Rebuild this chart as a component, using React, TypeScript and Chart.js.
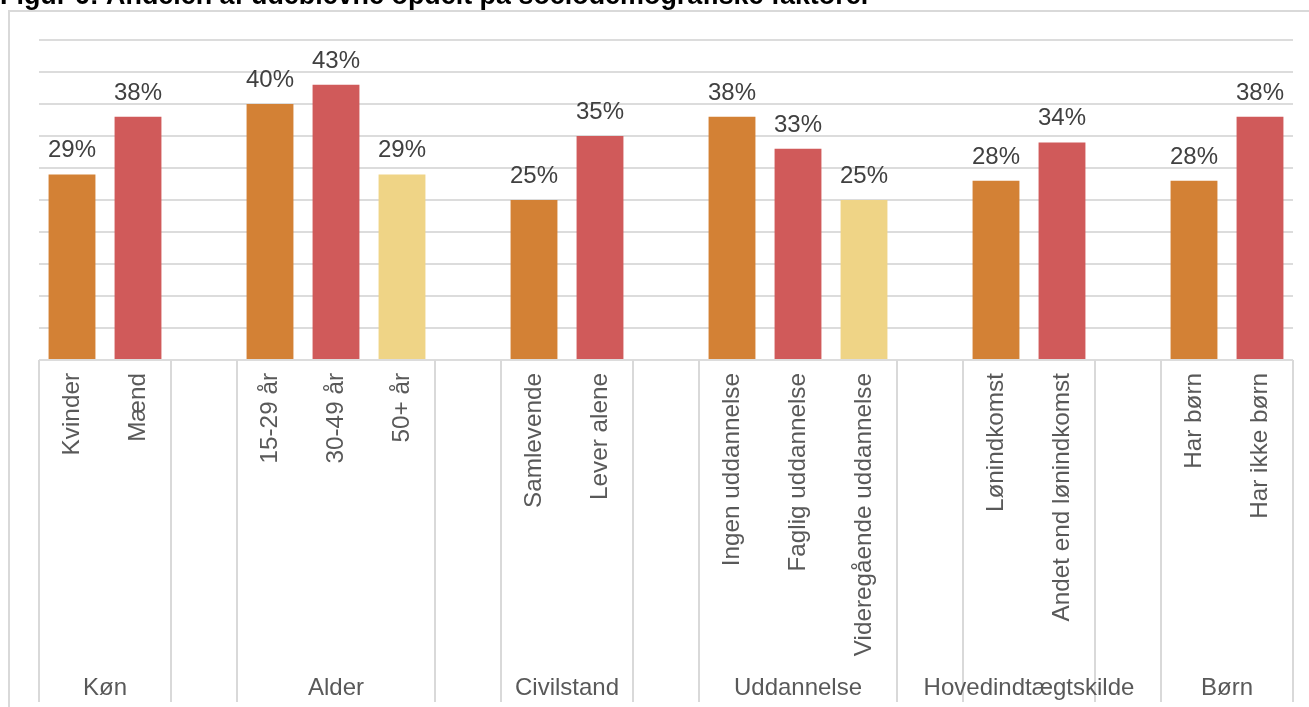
import React, { useEffect, useRef } from "react";
import { Chart, registerables } from "chart.js";

Chart.register(...registerables);

const TITLE = "Figur 6: Andelen af udeblevne opdelt på sociodemografiske faktorer";

const categories: string[] = [
  "Kvinder", "Mænd", "",
  "15-29 år", "30-49 år", "50+ år", "",
  "Samlevende", "Lever alene", "",
  "Ingen uddannelse", "Faglig uddannelse", "Videregående uddannelse", "",
  "Lønindkomst", "Andet end lønindkomst", "",
  "Har børn", "Har ikke børn",
];

const values: (number | null)[] = [
  29, 38, null,
  40, 43, 29, null,
  25, 35, null,
  38, 33, 25, null,
  28, 34, null,
  28, 38,
];

const colorIndex: number[] = [
  0, 1, 0,
  0, 1, 2, 0,
  0, 1, 0,
  0, 1, 2, 0,
  0, 1, 0,
  0, 1,
];

const groupNames: string[] = ["Køn", "", "Alder", "", "Civilstand", "", "Uddannelse", "", "Hovedindtægtskilde", "", "Børn"];
const groupSpans: number[] = [2, 1, 3, 1, 2, 1, 3, 1, 2, 1, 2];

const palette: string[] = ["#D38135", "#D05A5A", "#EFD486"];

const FONT = "'Liberation Sans', Arial, sans-serif";

const decorPlugin = {
  id: "decor",
  beforeDraw(chart: any) {
    const ctx = chart.ctx;
    ctx.save();
    ctx.fillStyle = "#ffffff";
    ctx.fillRect(0, 0, chart.width, chart.height);
    ctx.strokeStyle = "#d9d9d9";
    ctx.lineWidth = 2;
    ctx.strokeRect(9, 11, 1330, 740);
    ctx.fillStyle = "#000000";
    ctx.font = `bold 26.9px ${FONT}`;
    ctx.textAlign = "left";
    ctx.textBaseline = "alphabetic";
    ctx.fillText(TITLE, 0, 4);
    ctx.restore();
  },
  afterDatasetsDraw(chart: any) {
    const ctx = chart.ctx;
    const meta = chart.getDatasetMeta(0);
    const xScale = chart.scales.x;
    ctx.save();
    // data labels
    ctx.font = `24px ${FONT}`;
    ctx.fillStyle = "#404040";
    ctx.textAlign = "center";
    ctx.textBaseline = "alphabetic";
    meta.data.forEach((el: any, i: number) => {
      const v = values[i];
      if (v === null || v === undefined) return;
      ctx.fillText(`${v}%`, el.x, el.y - 17);
    });
    // separators and group labels
    const n = categories.length;
    const slot = (xScale.right - xScale.left) / n;
    const top = chart.chartArea.bottom;
    const bottom = 702;
    ctx.strokeStyle = "#d9d9d9";
    ctx.lineWidth = 2;
    let start = 0;
    const drawSep = (px: number) => {
      ctx.beginPath();
      ctx.moveTo(px, top);
      ctx.lineTo(px, bottom);
      ctx.stroke();
    };
    drawSep(xScale.getPixelForValue(0) - slot / 2);
    ctx.font = `24px ${FONT}`;
    ctx.fillStyle = "#595959";
    groupSpans.forEach((span, gi) => {
      const left = xScale.getPixelForValue(start) - slot / 2;
      const right = xScale.getPixelForValue(start + span - 1) + slot / 2;
      drawSep(right);
      if (groupNames[gi]) {
        ctx.fillText(groupNames[gi], (left + right) / 2, 695);
      }
      start += span;
    });
    ctx.restore();
  },
};

export default function App() {
  const canvasRef = useRef<HTMLCanvasElement | null>(null);

  useEffect(() => {
    if (!canvasRef.current) return;
    const chart = new Chart(canvasRef.current, {
      type: "bar",
      data: {
        labels: categories,
        datasets: [
          {
            data: values,
            backgroundColor: colorIndex.map((c) => palette[c]),
            borderWidth: 0,
            categoryPercentage: 1,
            barPercentage: 0.71,
          },
        ],
      },
      options: {
        responsive: false,
        animation: false,
        devicePixelRatio: 1,
        layout: { padding: { left: 39, right: 16, top: 40, bottom: 5 } },
        plugins: {
          legend: { display: false },
          tooltip: { enabled: false },
          title: { display: false },
        },
        scales: {
          x: {
            type: "category",
            offset: true,
            grid: { display: false, drawTicks: false },
            border: { display: false },
            ticks: {
              autoSkip: false,
              minRotation: 90,
              maxRotation: 90,
              padding: 13,
              color: "#595959",
              font: { family: FONT, size: 24.3 },
            },
            afterFit: (scale: any) => {
              scale.height = 342;
            },
          },
          y: {
            min: 0,
            max: 50,
            ticks: { display: false, stepSize: 5 },
            grid: { color: "#dcdcdc", lineWidth: 2, drawTicks: false },
            border: { display: false },
            afterFit: (scale: any) => {
              scale.width = 0;
            },
          },
        },
      },
      plugins: [decorPlugin],
    });
    return () => chart.destroy();
  }, []);

  return (
    <div style={{ position: "absolute", left: 0, top: 0, width: 1309, height: 707, background: "#fff" }}>
      <canvas ref={canvasRef} width={1309} height={707} style={{ display: "block" }} />
    </div>
  );
}
